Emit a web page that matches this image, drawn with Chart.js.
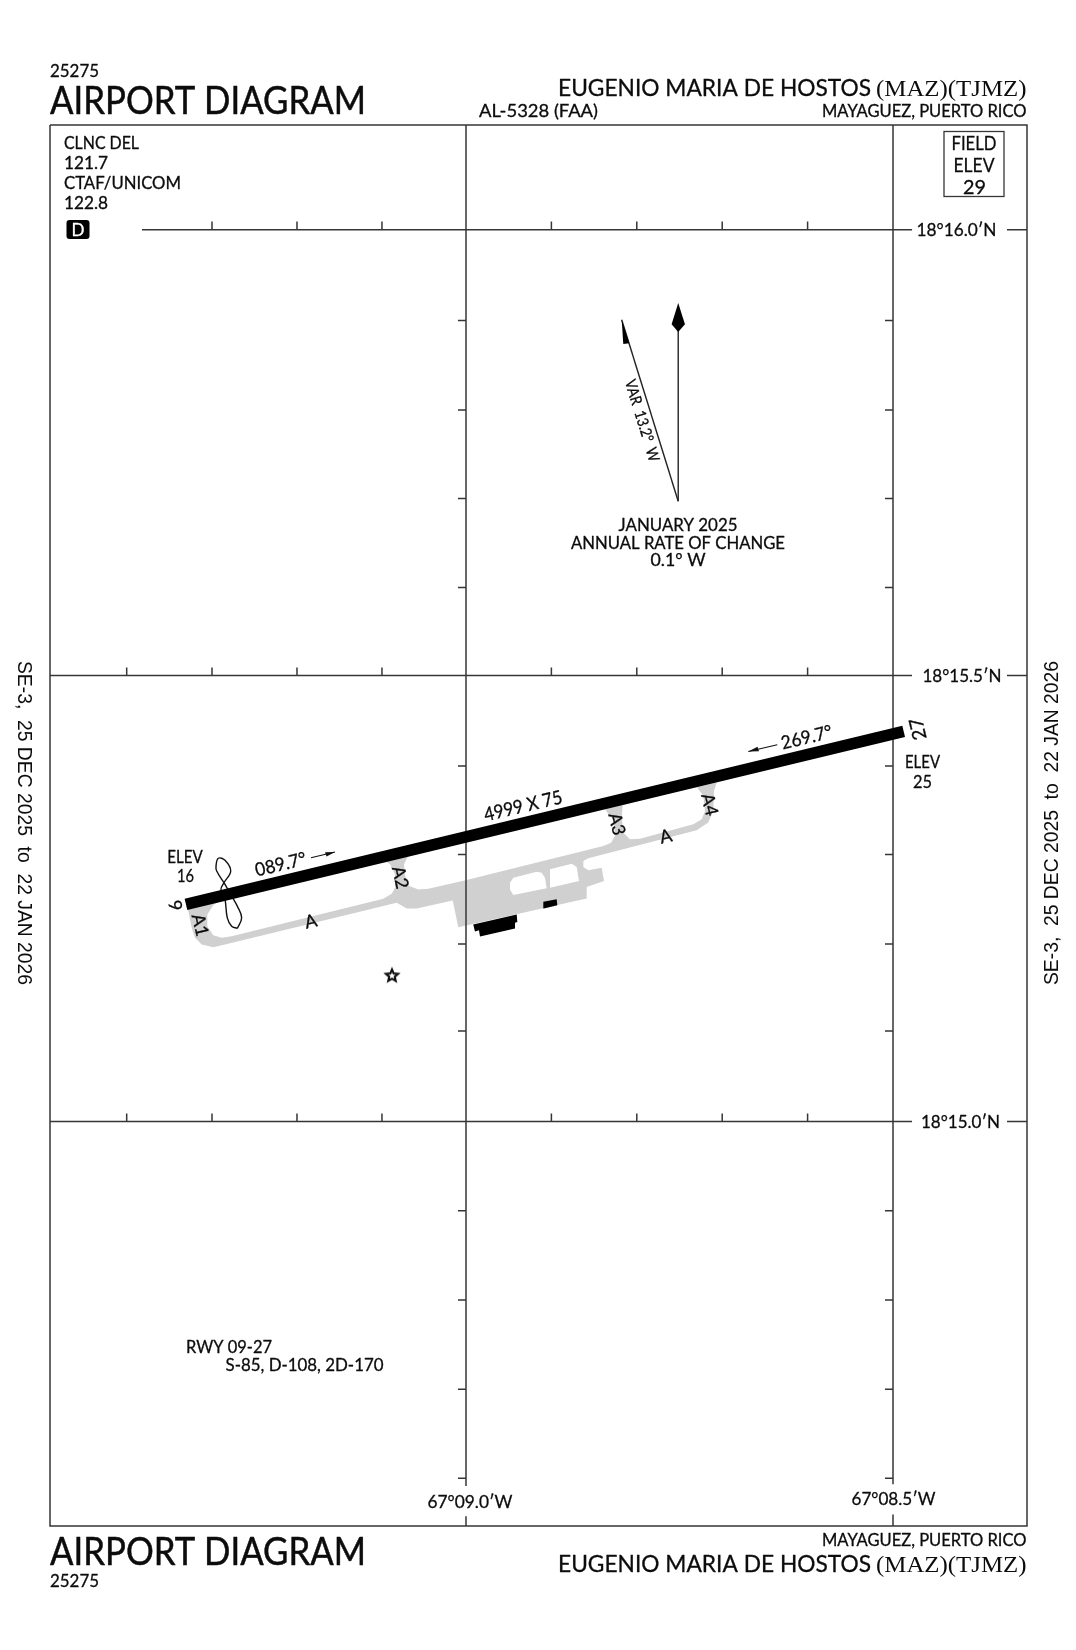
<!DOCTYPE html>
<html lang="en">
<head>
<meta charset="UTF-8">
<title>Airport Diagram TJMZ</title>
<script src="https://cdn.jsdelivr.net/npm/chart.js"></script>
<style>
    body { margin: 0; background: #fff; }
    canvas { display: block; }
</style>
</head>
<body>
<canvas id="diagram" width="1076" height="1650"></canvas>
<script>
// all map data: x = minutes west of 67 deg, y = minutes north of 18 deg
const latGrid = [16.0, 15.5, 15.0];
const lonGrid = [9.0, 8.5];
const latTicks = [15.8980, 15.7978, 15.6985, 15.5988, 15.3987, 15.2994, 15.1991, 15.1016, 14.9, 14.8, 14.7, 14.6];
const lonTicksTop = [9.2974, 9.1979, 9.0984, 8.9, 8.8, 8.7, 8.6];
const lonTicks = [9.3973, 9.2974, 9.1979, 9.0984, 8.9, 8.8, 8.7, 8.6];
const latLabels = ["18°16.0′N", "18°15.5′N", "18°15.0′N"];
const lonLabels = ["67°09.0′W", "67°08.5′W"];

const runwayLon = [9.3279, 8.4875];
const runwayLat = [15.2435, 15.4375];

const taxiLon = [9.3263, 9.3212, 9.3173, 9.3095, 9.2959, 9.2822, 9.0811, 9.0694, 9.0577, 9.0156, 9.0090, 8.8587,
    8.8587, 8.8384, 8.8411, 8.8568, 8.8626, 8.8626, 8.8568, 8.7299, 8.7163, 8.7104, 8.7096, 8.7064, 9.3263];
const taxiLat = [15.2416, 15.2172, 15.2060, 15.1985, 15.1955, 15.1985, 15.2453, 15.2390, 15.2390, 15.2480, 15.2180, 15.2502,
    15.2629, 15.2697, 15.2846, 15.2817, 15.2854, 15.2921, 15.2952, 15.3266, 15.3352, 15.3483, 15.3708, 15.3801, 15.2416];

const holeALon = [9.2861, 9.2959, 9.3029, 9.3029, 9.2959, 9.2861, 9.2744, 9.0968, 9.0870, 9.0831, 9.0831, 9.0890, 9.0968, 9.2861];
const holeALat = [15.2491, 15.2427, 15.2322, 15.2191, 15.2090, 15.2060, 15.2079, 15.2498, 15.2554, 15.2621, 15.2772, 15.2884, 15.2940, 15.2491];
const holeBLon = [9.0676, 9.0726, 9.0714, 9.0664, 9.0559, 9.0441, 8.9992, 8.8392, 8.8302, 8.8255, 8.8267, 8.8352, 8.8372, 9.0676];
const holeBLat = [15.2978, 15.2884, 15.2753, 15.2640, 15.2603, 15.2610, 15.2708, 15.3090, 15.3127, 15.3202, 15.3371, 15.3475, 15.3513, 15.2978];
const holeCLon = [8.8165, 8.8177, 8.8158, 8.8080, 8.7963, 8.7338, 8.7240, 8.7201, 8.7221, 8.7280, 8.7299, 8.8165];
const holeCLat = [15.3550, 15.3408, 15.3239, 15.3165, 15.3172, 15.3334, 15.3390, 15.3483, 15.3652, 15.3727, 15.3764, 15.3550];
const holeDLon = [8.9446, 8.9172, 8.9114, 8.9075, 8.9055, 8.9446, 8.9485, 8.9485, 8.9446];
const holeDLat = [15.2734, 15.2801, 15.2790, 15.2734, 15.2615, 15.2539, 15.2603, 15.2678, 15.2734];
const holeELon = [8.9016, 8.8762, 8.8704, 8.8677, 8.9016, 8.9016];
const holeELat = [15.2828, 15.2891, 15.2854, 15.2697, 15.2621, 15.2828];

const terminalLon = [8.9915, 8.9406, 8.9399, 8.9426, 8.9426, 8.9836, 8.9848, 8.9895, 8.9915];
const terminalLat = [15.2210, 15.2322, 15.2239, 15.2228, 15.2165, 15.2075, 15.2146, 15.2131, 15.2210];
const hangarLon = [8.9095, 8.8938, 8.8931, 8.9087, 8.9095];
const hangarLat = [15.2464, 15.2494, 15.2424, 15.2390, 15.2464];

const loopLon = [9.2678, 9.2627, 9.2678, 9.2744, 9.2834, 9.2919, 9.2927, 9.2900, 9.2822, 9.2755, 9.2834, 9.2869, 9.2822, 9.2795, 9.2744, 9.2678];
const loopLat = [15.2165, 15.2284, 15.2416, 15.2528, 15.2678, 15.2809, 15.2865, 15.2952, 15.2929, 15.2809, 15.2678, 15.2603, 15.2491, 15.2284, 15.2191, 15.2165];

const arpLon = [9.0867];
const arpLat = [15.1640];

const trueLon = [8.7515, 8.7515];
const trueLat = [15.6955, 15.8876];
const diamondLon = [8.7515, 8.7436, 8.7515, 8.7592, 8.7515];
const diamondLat = [15.9176, 15.8940, 15.8851, 15.8940, 15.9176];
const magLon = [8.7515, 8.8177];
const magLat = [15.6955, 15.8989];
const barbLon = [8.8177, 8.8088, 8.8158, 8.8177];
const barbLat = [15.8989, 15.8727, 15.8719, 15.8989];

const arrowEastLon = [9.1815, 9.1534];
const arrowEastLat = [15.2958, 15.3022];
const headEastLon = [9.1534, 9.1651, 9.1633, 9.1534];
const headEastLat = [15.3022, 15.3020, 15.2972, 15.3022];
const arrowWestLon = [8.6694, 8.6355];
const arrowWestLat = [15.4149, 15.4225];
const headWestLon = [8.6694, 8.6569, 8.6587, 8.6694];
const headWestLat = [15.4149, 15.4152, 15.4202, 15.4149];

const xMin = 8.3431, xMax = 9.4871, yMin = 14.5466, yMax = 16.1173;
const tickLon = 0.0094, tickLat = 0.009;

const INK = '#363636', GRAY = '#d0d0d0';
const SANS = 'Lato, sans-serif', SERIF = '"Liberation Serif", serif', ARIAL = '"Liberation Sans", sans-serif';

function pts(xs, ys) {
    return xs.map(function (x, i) { return { x: x, y: ys[i] }; });
}

function breakLine(out, a, b) {
    out.push(a, b, { x: null, y: null });
}

function gridPoints() {
    const out = [];
    // frame
    out.push({ x: xMax, y: yMax }, { x: xMin, y: yMax }, { x: xMin, y: yMin }, { x: xMax, y: yMin }, { x: xMax, y: yMax }, { x: null, y: null });
    // parallels, broken around their labels
    latGrid.forEach(function (lat, i) {
        const start = i === 0 ? 9.3794 : xMax;
        breakLine(out, { x: start, y: lat }, { x: 8.4777, y: lat });
        breakLine(out, { x: 8.3665, y: lat }, { x: xMin, y: lat });
        (i === 0 ? lonTicksTop : lonTicks).forEach(function (lon) {
            breakLine(out, { x: lon, y: lat }, { x: lon, y: lat + tickLat });
        });
    });
    // meridians, broken around their labels
    breakLine(out, { x: lonGrid[0], y: yMax }, { x: lonGrid[0], y: 14.5914 });
    breakLine(out, { x: lonGrid[0], y: 14.5574 }, { x: lonGrid[0], y: yMin });
    breakLine(out, { x: lonGrid[1], y: yMax }, { x: lonGrid[1], y: 14.5933 });
    breakLine(out, { x: lonGrid[1], y: 14.5596 }, { x: lonGrid[1], y: yMin });
    lonGrid.forEach(function (lon) {
        latTicks.forEach(function (lat) {
            breakLine(out, { x: lon, y: lat }, { x: lon + tickLon, y: lat });
        });
    });
    return out;
}

function area(xs, ys, color) {
    return { data: pts(xs, ys), showLine: true, fill: 'shape', backgroundColor: color, borderColor: color, borderWidth: 0, pointRadius: 0, clip: false };
}

function stroke(xs, ys, width, color, extra) {
    return Object.assign({ data: pts(xs, ys), showLine: true, fill: false, borderColor: color, borderWidth: width, pointRadius: 0, clip: false }, extra || {});
}

function starImage() {
    const c = document.createElement('canvas');
    c.width = 18; c.height = 18;
    const g = c.getContext('2d');
    g.beginPath();
    for (let i = 0; i < 10; i++) {
        const r = i % 2 ? 2.9 : 6.4;
        const a = -Math.PI / 2 + i * Math.PI / 5;
        g.lineTo(9 + r * Math.cos(a), 9.5 + r * Math.sin(a));
    }
    g.closePath();
    g.fillStyle = '#fff';
    g.fill();
    g.lineWidth = 2.1;
    g.strokeStyle = '#111';
    g.stroke();
    return c;
}

// put one piece of text; w squeezes/stretches it to the width in the reference
function put(ctx, text, x, y, o) {
    o = o || {};
    const size = o.size || 17;
    const heavy = o.heavy === undefined ? 0.3 : o.heavy;
    ctx.save();
    ctx.font = size + 'px ' + (o.font || SANS);
    ctx.fillStyle = o.color || '#0c0c0c';
    ctx.textBaseline = 'alphabetic';
    ctx.textAlign = o.align || 'left';
    ctx.translate(x, y);
    if (o.rot) ctx.rotate(o.rot * Math.PI / 180);
    if (o.w) ctx.scale(o.w / ctx.measureText(text).width, 1);
    const dy = o.mid ? size * 0.36 : 0;
    ctx.fillText(text, 0, dy);
    if (heavy > 0) {
        ctx.strokeStyle = ctx.fillStyle;
        ctx.lineWidth = heavy;
        ctx.lineJoin = 'round';
        ctx.strokeText(text, 0, dy);
    }
    ctx.restore();
}

const RWY = -13.43;
const labelsPlugin = {
    id: 'chartText',
    afterDatasetsDraw: function (chart) {
        const ctx = chart.ctx;
        const xs = chart.scales.x, ys = chart.scales.y;

        // heading
        put(ctx, '25275', 50, 77, { size: 18, w: 49 });
        put(ctx, 'AIRPORT DIAGRAM', 50, 113.5, { size: 39, w: 316, heavy: 0.5 });
        put(ctx, 'EUGENIO MARIA DE HOSTOS', 558, 96, { size: 23, w: 313 });
        put(ctx, '(MAZ)(TJMZ)', 876, 96, { size: 24, w: 150.5, font: SERIF, heavy: 0 });
        put(ctx, 'MAYAGUEZ, PUERTO RICO', 822, 116.5, { size: 16.5, w: 204.5 });
        put(ctx, 'AL-5328 (FAA)', 479, 116.8, { size: 16.5, w: 119 });

        // footer
        put(ctx, 'AIRPORT DIAGRAM', 50, 1565, { size: 39, w: 316, heavy: 0.5 });
        put(ctx, '25275', 50, 1587, { size: 18, w: 49 });
        put(ctx, 'MAYAGUEZ, PUERTO RICO', 822, 1546, { size: 16.5, w: 204.5 });
        put(ctx, 'EUGENIO MARIA DE HOSTOS', 558, 1571.5, { size: 23, w: 313 });
        put(ctx, '(MAZ)(TJMZ)', 876, 1571.5, { size: 24, w: 150.5, font: SERIF, heavy: 0 });

        // margins
        put(ctx, 'SE-3,  25 DEC 2025  to  22 JAN 2026', 18, 661, { size: 20, rot: 90, w: 324, font: ARIAL, heavy: 0 });
        put(ctx, 'SE-3,  25 DEC 2025  to  22 JAN 2026', 1057.5, 985, { size: 20, rot: -90, w: 324, font: ARIAL, heavy: 0 });

        // comm box
        put(ctx, 'CLNC DEL', 64, 148.8, { size: 17, w: 75 });
        put(ctx, '121.7', 64, 168.8, { size: 17, w: 44 });
        put(ctx, 'CTAF/UNICOM', 64, 188.8, { size: 17, w: 117 });
        put(ctx, '122.8', 64, 208.8, { size: 17, w: 44 });
        ctx.fillStyle = '#000';
        ctx.beginPath();
        ctx.roundRect(66.5, 220, 23, 19, 3);
        ctx.fill();
        put(ctx, 'D', 78, 235.5, { size: 17, align: 'center', color: '#fff' });

        // field elevation box
        ctx.strokeStyle = INK;
        ctx.lineWidth = 1.3;
        ctx.strokeRect(944, 131.5, 60, 65);
        put(ctx, 'FIELD', 974, 149.5, { size: 20, align: 'center', w: 45 });
        put(ctx, 'ELEV', 974, 171.5, { size: 20, align: 'center', w: 41 });
        put(ctx, '29', 974.5, 193.5, { size: 20, align: 'center', w: 23 });

        // grid labels take their place from the scales
        const latCx = [956.5, 962, 960.5];
        const latW = [80, 79, 79];
        latLabels.forEach(function (t, i) {
            put(ctx, t, latCx[i], ys.getPixelForValue(latGrid[i]) + 6.5, { size: 18, align: 'center', w: latW[i] });
        });
        put(ctx, lonLabels[0], xs.getPixelForValue(lonGrid[0]) + 4, 1508, { size: 18, align: 'center', w: 85 });
        put(ctx, lonLabels[1], xs.getPixelForValue(lonGrid[1]) + 0.5, 1505, { size: 18, align: 'center', w: 84 });

        // magnetic note
        put(ctx, 'VAR  13.2°  W', 642.5, 420.5, { size: 15.5, align: 'center', rot: 72.9, mid: true, w: 85 });
        put(ctx, 'JANUARY 2025', 678, 530.5, { size: 17, align: 'center', w: 119 });
        put(ctx, 'ANNUAL RATE OF CHANGE', 678, 548.8, { size: 17, align: 'center', w: 214 });
        put(ctx, '0.1° W', 678, 566, { size: 17, align: 'center', w: 55 });

        // runway and taxiway text
        put(ctx, 'ELEV', 185, 862.7, { size: 17, align: 'center', w: 35.5 });
        put(ctx, '16', 185.5, 882.3, { size: 18, align: 'center', w: 17 });
        put(ctx, 'ELEV', 922.5, 768.3, { size: 17, align: 'center', w: 35 });
        put(ctx, '25', 922.5, 788.3, { size: 18, align: 'center', w: 19 });
        put(ctx, '089.7°', 280.5, 864, { size: 18.5, align: 'center', rot: RWY, mid: true, w: 52 });
        put(ctx, '269.7°', 806.5, 737, { size: 18.5, align: 'center', rot: RWY, mid: true, w: 52 });
        put(ctx, '4999 X 75', 523, 805.5, { size: 19, align: 'center', rot: RWY, mid: true, w: 80 });
        put(ctx, '9', 175.5, 905.5, { size: 18, align: 'center', rot: 90 + RWY, mid: true });
        put(ctx, '27', 917.5, 729, { size: 19, align: 'center', rot: -90 + RWY, mid: true });
        put(ctx, 'A1', 200.5, 925, { size: 18, align: 'center', rot: 90 + RWY, mid: true });
        put(ctx, 'A2', 400.7, 877.3, { size: 18, align: 'center', rot: 90 + RWY, mid: true });
        put(ctx, 'A3', 617.3, 824, { size: 18, align: 'center', rot: 90 + RWY, mid: true });
        put(ctx, 'A4', 710, 804.5, { size: 18, align: 'center', rot: 90 + RWY, mid: true });
        put(ctx, 'A', 310.7, 921, { size: 18, align: 'center', rot: RWY, mid: true });
        put(ctx, 'A', 665.7, 836, { size: 18, align: 'center', rot: RWY, mid: true });

        // strength table
        put(ctx, 'RWY 09-27', 186, 1353, { size: 16.5, w: 86 });
        put(ctx, 'S-85, D-108, 2D-170', 225.5, 1370.7, { size: 16.5, w: 158 });
    }
};

const datasets = [
    area(taxiLon, taxiLat, GRAY),
    area(holeALon, holeALat, '#fff'),
    area(holeBLon, holeBLat, '#fff'),
    area(holeCLon, holeCLat, '#fff'),
    area(holeDLon, holeDLat, '#fff'),
    area(holeELon, holeELat, '#fff'),
    { data: gridPoints(), showLine: true, fill: false, borderColor: INK, borderWidth: 1.5, pointRadius: 0, clip: false, spanGaps: false },
    area(terminalLon, terminalLat, '#000'),
    area(hangarLon, hangarLat, '#000'),
    stroke(loopLon, loopLat, 1.4, '#111', { tension: 0.4 }),
    stroke(runwayLon, runwayLat, 11.5, '#000'),
    stroke(trueLon, trueLat, 1.4, '#222'),
    area(diamondLon, diamondLat, '#000'),
    stroke(magLon, magLat, 1.4, '#222'),
    area(barbLon, barbLat, '#000'),
    stroke(arrowEastLon, arrowEastLat, 1.2, '#111'),
    area(headEastLon, headEastLat, '#111'),
    stroke(arrowWestLon, arrowWestLat, 1.2, '#111'),
    area(headWestLon, headWestLat, '#111'),
    { data: pts(arpLon, arpLat), showLine: false, pointStyle: starImage(), pointRadius: 7, clip: false }
];
datasets.forEach(function (d, i) { d.order = datasets.length - i; });

new Chart(document.getElementById('diagram'), {
    type: 'scatter',
    data: { datasets: datasets },
    options: {
        responsive: false,
        animation: false,
        devicePixelRatio: 1,
        layout: { padding: { left: 50, top: 125, right: 49, bottom: 124 } },
        plugins: { legend: { display: false }, tooltip: { enabled: false }, title: { display: false } },
        scales: {
            x: { type: 'linear', display: false, reverse: true, min: xMin, max: xMax },
            y: { type: 'linear', display: false, min: yMin, max: yMax }
        }
    },
    plugins: [labelsPlugin]
});
</script>
</body>
</html>
